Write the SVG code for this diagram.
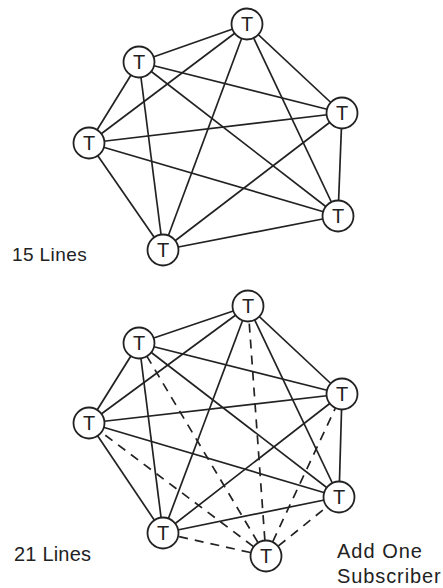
<svg xmlns="http://www.w3.org/2000/svg" width="443" height="588" viewBox="0 0 443 588">
  <style>
    .edge { stroke: #222; stroke-width: 1.7; fill: none; }
    .dash { stroke: #222; stroke-width: 1.7; fill: none; stroke-dasharray: 9 7; }
    .node circle { fill: #fff; stroke: #222; stroke-width: 1.8; }
    .node text { font-family: "Liberation Sans", Arial, sans-serif; font-size: 20px; fill: #222; text-anchor: middle; }
    .label { font-family: "Liberation Sans", Arial, sans-serif; fill: #222; }
  </style>
  <rect width="443" height="588" fill="#fff"/>

  <!-- Network of 6 terminals: every pair joined (15 lines) -->
  <g id="connectors-top">
    <line class="edge" x1="247" y1="24" x2="139" y2="62"/>
    <line class="edge" x1="247" y1="24" x2="342" y2="113"/>
    <line class="edge" x1="247" y1="24" x2="89" y2="143"/>
    <line class="edge" x1="247" y1="24" x2="338" y2="216"/>
    <line class="edge" x1="247" y1="24" x2="163" y2="250"/>
    <line class="edge" x1="139" y1="62" x2="342" y2="113"/>
    <line class="edge" x1="139" y1="62" x2="89" y2="143"/>
    <line class="edge" x1="139" y1="62" x2="338" y2="216"/>
    <line class="edge" x1="139" y1="62" x2="163" y2="250"/>
    <line class="edge" x1="342" y1="113" x2="89" y2="143"/>
    <line class="edge" x1="342" y1="113" x2="338" y2="216"/>
    <line class="edge" x1="342" y1="113" x2="163" y2="250"/>
    <line class="edge" x1="89" y1="143" x2="338" y2="216"/>
    <line class="edge" x1="89" y1="143" x2="163" y2="250"/>
    <line class="edge" x1="338" y1="216" x2="163" y2="250"/>
  </g>
  <g id="t1a" class="node"><circle cx="247" cy="24" r="15.5"/><text x="247" y="31">T</text></g>
  <g id="t1b" class="node"><circle cx="139" cy="62" r="15.5"/><text x="139" y="69">T</text></g>
  <g id="t1c" class="node"><circle cx="342" cy="113" r="15.5"/><text x="342" y="120">T</text></g>
  <g id="t1d" class="node"><circle cx="89" cy="143" r="15.5"/><text x="89" y="150">T</text></g>
  <g id="t1e" class="node"><circle cx="338" cy="216" r="15.5"/><text x="338" y="223">T</text></g>
  <g id="t1f" class="node"><circle cx="163" cy="250" r="15.5"/><text x="163" y="257">T</text></g>
  <text class="label" x="12" y="261" font-size="19" letter-spacing="0.4">15 Lines</text>

  <!-- Same network plus one subscriber: 6 new dashed lines (21 lines) -->
  <g id="connectors-bottom">
    <line class="edge" x1="248" y1="306" x2="139" y2="343"/>
    <line class="edge" x1="248" y1="306" x2="342" y2="394"/>
    <line class="edge" x1="248" y1="306" x2="89" y2="423"/>
    <line class="edge" x1="248" y1="306" x2="339" y2="497"/>
    <line class="edge" x1="248" y1="306" x2="163" y2="533"/>
    <line class="edge" x1="139" y1="343" x2="342" y2="394"/>
    <line class="edge" x1="139" y1="343" x2="89" y2="423"/>
    <line class="edge" x1="139" y1="343" x2="339" y2="497"/>
    <line class="edge" x1="139" y1="343" x2="163" y2="533"/>
    <line class="edge" x1="342" y1="394" x2="89" y2="423"/>
    <line class="edge" x1="342" y1="394" x2="339" y2="497"/>
    <line class="edge" x1="342" y1="394" x2="163" y2="533"/>
    <line class="edge" x1="89" y1="423" x2="339" y2="497"/>
    <line class="edge" x1="89" y1="423" x2="163" y2="533"/>
    <line class="edge" x1="339" y1="497" x2="163" y2="533"/>
    <line class="dash" x1="266" y1="556" x2="248" y2="306"/>
    <line class="dash" x1="266" y1="556" x2="139" y2="343"/>
    <line class="dash" x1="266" y1="556" x2="342" y2="394"/>
    <line class="dash" x1="266" y1="556" x2="89" y2="423"/>
    <line class="dash" x1="266" y1="556" x2="339" y2="497"/>
    <line class="dash" x1="266" y1="556" x2="163" y2="533"/>
  </g>
  <g id="t2a" class="node"><circle cx="248" cy="306" r="15.5"/><text x="248" y="313">T</text></g>
  <g id="t2b" class="node"><circle cx="139" cy="343" r="15.5"/><text x="139" y="350">T</text></g>
  <g id="t2c" class="node"><circle cx="342" cy="394" r="15.5"/><text x="342" y="401">T</text></g>
  <g id="t2d" class="node"><circle cx="89" cy="423" r="15.5"/><text x="89" y="430">T</text></g>
  <g id="t2e" class="node"><circle cx="339" cy="497" r="15.5"/><text x="339" y="504">T</text></g>
  <g id="t2f" class="node"><circle cx="163" cy="533" r="15.5"/><text x="163" y="540">T</text></g>
  <g id="t2new" class="node"><circle cx="266" cy="556" r="15.5"/><text x="266" y="563">T</text></g>
  <text class="label" x="14" y="561" font-size="20" letter-spacing="0.2">21 Lines</text>
  <text class="label" x="337" y="558" font-size="20" letter-spacing="1">Add One</text>
  <text class="label" x="337" y="583" font-size="20" letter-spacing="0.9">Subscriber</text>
</svg>
